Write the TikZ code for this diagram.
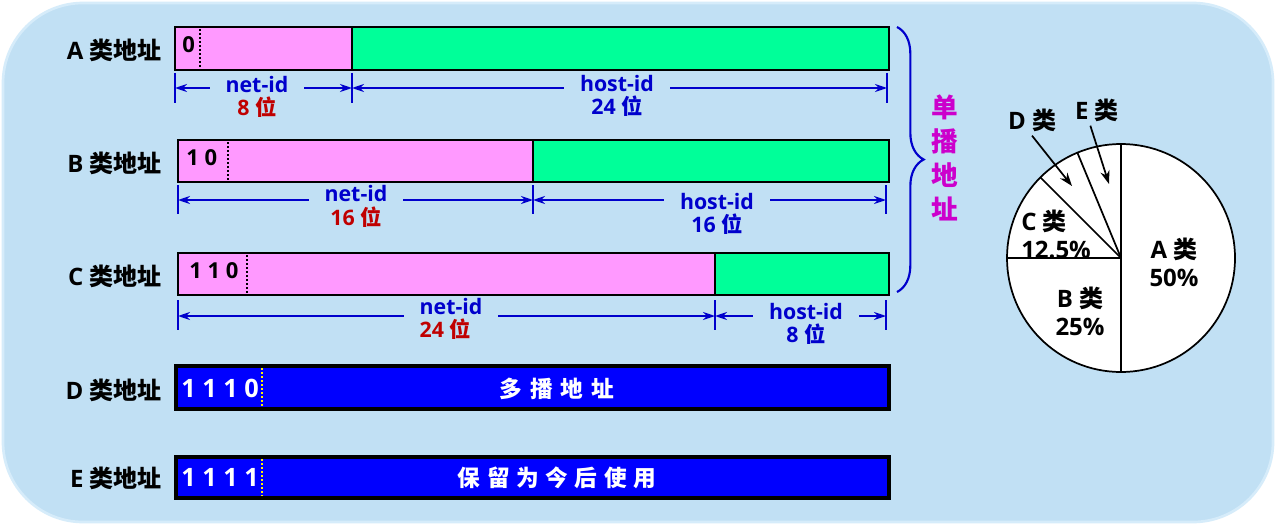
\documentclass[tikz,border=0pt]{standalone}
\usepackage{fontspec}
\setmainfont{Open Sans}
\newfontfamily\cjkf{Noto Sans CJK SC}
\newcommand\zhs[1]{{\cjkf #1}}
\usetikzlibrary{arrows.meta,decorations.pathreplacing}
\definecolor{bg}{RGB}{193,224,244}
\definecolor{bgrim}{RGB}{214,236,250}
\definecolor{pinkc}{RGB}{255,153,255}
\definecolor{greenc}{RGB}{0,255,153}
\definecolor{barblue}{RGB}{0,0,255}
\definecolor{dimblue}{RGB}{0,0,204}
\definecolor{darkred}{RGB}{192,0,0}
\definecolor{mag}{RGB}{204,0,204}
\tikzset{
  barpink/.style={fill=pinkc, draw=black, line width=2.2pt},
  bargreen/.style={fill=greenc, draw=black, line width=2.2pt},
  barblu/.style={fill=barblue, draw=black, line width=2.6pt},
  sepdot/.style={draw=black, line width=1.6pt, dash pattern=on 1.6pt off 1.4pt},
  sepyel/.style={draw=yellow, line width=1.6pt, dash pattern=on 1.6pt off 1.4pt},
  tickln/.style={draw=dimblue, line width=1.5pt},
  dimln/.style={draw=dimblue, line width=1.8pt, {Stealth[length=9pt,width=6pt]}-{Stealth[length=9pt,width=6pt]}},
  rowlbl/.style={font=\fontsize{18}{20}\selectfont\bfseries, anchor=east, inner sep=0pt},
  bittxt/.style={font=\fontsize{16.5}{18}\selectfont\bfseries, anchor=west, inner sep=0pt},
  bitwht/.style={font=\fontsize{19}{21}\selectfont\bfseries, anchor=west, inner sep=0pt, text=white},
  bartxt/.style={font=\fontsize{17}{19}\selectfont\bfseries, inner sep=0pt, text=white},
  dimtxt/.style={font=\fontsize{16}{17}\selectfont\bfseries, text=dimblue, fill=bg, inner xsep=12pt, inner ysep=1pt},
  pietxt/.style={font=\fontsize{18}{21}\selectfont\bfseries, inner sep=0pt},
  pieln/.style={draw=black, line width=1.3pt},
  piearr/.style={draw=black, line width=1.3pt, -{Stealth[length=10pt,width=7pt]}}
}
\begin{document}
\begin{tikzpicture}[x=0.75pt,y=-0.75pt]
\useasboundingbox (0,0) rectangle (1276,528);
\fill[white] (0,0) rectangle (1276,528);
\filldraw[fill=bg, draw=bgrim, line width=2pt, rounded corners=60pt] (3,3) rectangle (1273,522);

% row labels
\node[rowlbl] (la) at (162,50) {A \zhs{类地址}};
\node[rowlbl] (lb) at (162,163) {B \zhs{类地址}};
\node[rowlbl] (lc) at (162,276) {C \zhs{类地址}};
\node[rowlbl] (ld) at (162,390) {D \zhs{类地址}};
\node[rowlbl] (le) at (162,478) {E \zhs{类地址}};

% A bar
\path[bargreen] (352,27) rectangle (889,70);
\path[barpink] (175,27) rectangle (352,70);
\draw[sepdot] (200,29) -- (200,68);
\node[bittxt] (abit) at (182,45) {0};
% B bar
\path[bargreen] (533,140) rectangle (889,182);
\path[barpink] (178,140) rectangle (533,182);
\draw[sepdot] (228,142) -- (228,180);
\node[bittxt] (bbit) at (186,158) {1 0};
% C bar
\path[bargreen] (715,253) rectangle (889,295);
\path[barpink] (178,253) rectangle (715,295);
\draw[sepdot] (247,255) -- (247,293);
\node[bittxt] (cbit) at (189,271) {1 1 0};
% D bar
\path[barblu] (176,366) rectangle (889,409);
\draw[sepyel] (262,368) -- (262,407);
\node[bitwht] (dbit) at (181,388) {1 1 1 0};
\node[bartxt] (dtxt) at (557,389) {\zhs{多\hspace{6pt}播\hspace{6pt}地\hspace{6pt}址}};
% E bar
\path[barblu] (176,457) rectangle (889,498);
\draw[sepyel] (262,459) -- (262,496);
\node[bitwht] (ebit) at (181,477) {1 1 1 1};
\node[bartxt] (etxt) at (557,478) {\zhs{保\hspace{5pt}留\hspace{5pt}为\hspace{5pt}今\hspace{5pt}后\hspace{5pt}使\hspace{5pt}用}};

% A dimensions
\draw[tickln] (175,73) -- (175,103);
\draw[tickln] (352,73) -- (352,103);
\draw[tickln] (887,73) -- (887,103);
\coordinate (a0) at (175,88); \coordinate (a1) at (352,88); \coordinate (a2) at (887,88);
\draw[dimln] (a0) -- (a1);
\draw[dimln] (a1) -- (a2);
\node[dimtxt, align=center, font=\fontsize{16}{17}\selectfont\bfseries] (anet) at (257,97) {net-id\\\textcolor{darkred}{8 \zhs{位}}};
\node[dimtxt, align=center, font=\fontsize{16}{17}\selectfont\bfseries] (ahost) at (617,96) {host-id\\24 \zhs{位}};

% B dimensions
\draw[tickln] (178,185) -- (178,214);
\draw[tickln] (533,185) -- (533,214);
\draw[tickln] (886,185) -- (886,214);
\coordinate (b0) at (178,200); \coordinate (b1) at (533,200); \coordinate (b2) at (886,200);
\draw[dimln] (b0) -- (b1);
\draw[dimln] (b1) -- (b2);
\node[dimtxt, align=center, font=\fontsize{16}{18}\selectfont\bfseries] (bnet) at (356,206) {net-id\\\textcolor{darkred}{16 \zhs{位}}};
\node[dimtxt, align=center, font=\fontsize{16}{17.3}\selectfont\bfseries] (bhost) at (717,213.5) {host-id\\16 \zhs{位}};

% C dimensions
\draw[tickln] (178,300) -- (178,330);
\draw[tickln] (715,300) -- (715,330);
\draw[tickln] (886,300) -- (886,330);
\coordinate (c0) at (178,316); \coordinate (c1) at (715,316); \coordinate (c2) at (886,316);
\draw[dimln] (c0) -- (c1);
\draw[dimln] (c1) -- (c2);
\node[dimtxt, align=left, font=\fontsize{16}{17.3}\selectfont\bfseries] (cnet) at (451,318.5) {net-id\\\textcolor{darkred}{24 \zhs{位}}};
\node[dimtxt, align=center, font=\fontsize{16}{17}\selectfont\bfseries] (chost) at (806,324) {host-id\\8 \zhs{位}};

% brace
\coordinate (br0) at (897,27); \coordinate (br1) at (897,292);
\draw[draw=dimblue, line width=1.6pt, decorate, decoration={brace, amplitude=20pt}] (br0) -- (br1);
\node[font=\fontsize{20}{25.5}\selectfont\bfseries\cjkf, text=mag, align=center, inner sep=0pt] (uni) at (945,158) {单\\播\\地\\址};

% pie
\coordinate (pc) at (1121,258);
\filldraw[fill=white, pieln] (pc) circle[radius=114];
\draw[pieln] (pc) -- ++(-90:114);
\draw[pieln] (pc) -- ++(90:114);
\draw[pieln] (pc) -- ++(180:114);
\draw[pieln] (pc) -- ++(-135:114);
\draw[pieln] (pc) -- ++(-112.5:114);
\node[pietxt, align=center] (pA) at (1174,262) {A \zhs{类}\\50\%};
\node[pietxt, align=center] (pB) at (1080,311) {B \zhs{类}\\25\%};
\node[pietxt, align=left, anchor=west] (pC) at (1021,234) {C \zhs{类}\\12.5\%};
\node[pietxt] (pD) at (1032,120) {D \zhs{类}};
\node[pietxt] (pE) at (1097,110) {E \zhs{类}};
\coordinate (dtip) at (1072,186);
\coordinate (etip) at (1109,184);
\draw[piearr] ([yshift=-3pt]pD.south) -- (dtip);
\draw[piearr] ([xshift=-5pt,yshift=-3pt]pE.south) -- (etip);
\end{tikzpicture}
\end{document}
